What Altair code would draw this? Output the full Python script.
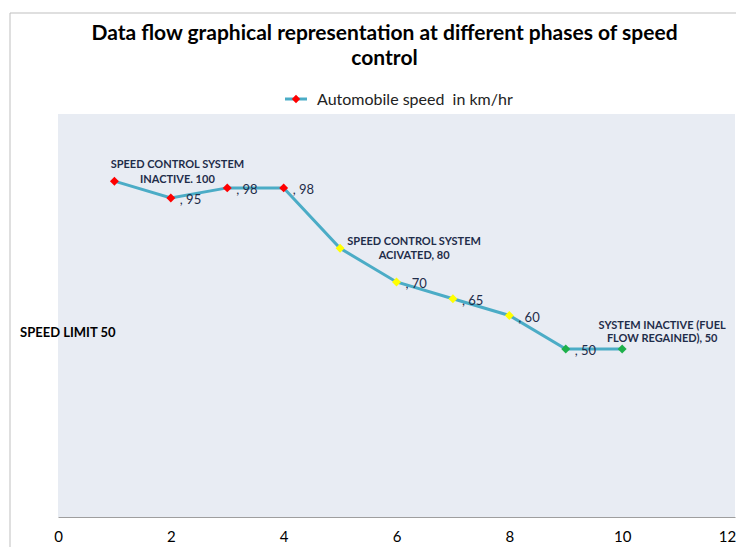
import altair as alt
import pandas as pd

# ---- data ----
xs = [1, 2, 3, 4, 5, 6, 7, 8, 9, 10]
speeds = [100, 95, 98, 98, 80, 70, 65, 60, 50, 50]
phases = ["inactive", "inactive", "inactive", "inactive",
          "activated", "activated", "activated", "activated",
          "regained", "regained"]
labels = ["SPEED CONTROL SYSTEM\nINACTIVE. 100", ", 95", ", 98", ", 98",
          "SPEED CONTROL SYSTEM\nACIVATED, 80", ", 70", ", 65", ", 60", ", 50",
          "SYSTEM INACTIVE (FUEL\nFLOW REGAINED), 50"]
x_ticks = [0, 2, 4, 6, 8, 10, 12]
phase_names = ["inactive", "activated", "regained"]
phase_colors = ["#FF0000", "#FFFF00", "#1DB04A"]

title_lines = ["Data flow graphical representation at different phases of speed", "control"]
legend_label = "Automobile speed\u00a0 in km/hr"
side_note = "SPEED LIMIT 50"

df = pd.DataFrame({"x": xs, "speed": speeds, "phase": phases, "label": labels,
                   "idx": list(range(len(xs)))})

W, H = 677, 403
FONT = "Lato"
LINE_COLOR = "#4BACC6"
TEXT_COLOR = "#1F2D4A"

xscale = alt.Scale(domain=[0, 12], nice=False, zero=False)
yscale = alt.Scale(domain=[0, 120], nice=False)

base = alt.Chart(df)

line = base.mark_line(color=LINE_COLOR, strokeWidth=3).encode(
    x=alt.X("x:Q", scale=xscale,
            axis=alt.Axis(values=x_ticks, format="d", title=None, grid=False, ticks=False,
                          domainColor="#9E9E9E", domainWidth=1, labelFontSize=15,
                          labelFont=FONT, labelColor="#000000", labelPadding=12,
                          labelFlush=False,
                          labelOffset={"condition": {"test": "datum.value == 12", "value": -8},
                                       "value": 0})),
    y=alt.Y("speed:Q", scale=yscale, axis=None),
)

points = base.mark_point(shape="diamond", filled=True, size=80, opacity=1).encode(
    x=alt.X("x:Q", scale=xscale),
    y=alt.Y("speed:Q", scale=yscale),
    color=alt.Color("phase:N", scale=alt.Scale(domain=phase_names, range=phase_colors),
                    legend=None),
)

short_labels = base.transform_filter(
    "indexof([0, 4, 9], datum.idx) < 0"
).mark_text(align="left", baseline="middle", dx=9, dy=2, fontSize=13,
            font=FONT, color=TEXT_COLOR).encode(
    x=alt.X("x:Q", scale=xscale), y=alt.Y("speed:Q", scale=yscale), text="label:N")


def big_label(i, dx, dy, lh):
    return base.transform_filter(f"datum.idx == {i}").mark_text(
        align="center", baseline="middle", dx=dx, dy=dy, lineBreak="\n",
        lineHeight=lh, fontSize=11, fontWeight="bold", font=FONT,
        color=TEXT_COLOR).encode(
        x=alt.X("x:Q", scale=xscale), y=alt.Y("speed:Q", scale=yscale),
        text="label:N")


lab1 = big_label(0, 63, -16, 15)
lab5 = big_label(4, 74, -6, 14)
lab10 = big_label(9, 40, -23, 13)

note = alt.Chart(pd.DataFrame({"t": [side_note]})).mark_text(
    align="left", baseline="middle", fontSize=13, fontWeight="bold", font=FONT,
    color="#000000").encode(x=alt.value(-38), y=alt.value(219), text="t:N")

# title drawn as text
title_df = pd.DataFrame({"t": title_lines, "yy": [-74, -49]})
title = alt.Chart(title_df).mark_text(align="center", baseline="alphabetic", fontSize=21,
                                      fontWeight="bold", font=FONT, color="#000000").encode(
    x=alt.value(326.5), y=alt.Y("yy:Q", scale=None), text="t:N")

# manual legend
leg_df = pd.DataFrame({"t": [legend_label]})
leg_line = alt.Chart(leg_df).mark_rule(color=LINE_COLOR, strokeWidth=3).encode(
    x=alt.value(227), x2=alt.value(249), y=alt.value(-15))
leg_pt = alt.Chart(leg_df).mark_point(shape="diamond", filled=True, size=70,
                                      color="#FF0000", opacity=1).encode(
    x=alt.value(238), y=alt.value(-15))
leg_txt = alt.Chart(leg_df).mark_text(align="left", baseline="middle", fontSize=16,
                                      font=FONT, color="#222222").encode(
    x=alt.value(259), y=alt.value(-14), text="t:N")

# chart frame
frame = alt.Chart(leg_df).mark_rect(fill=None, stroke="#BFBFBF", strokeWidth=1).encode(
    x=alt.value(-48), x2=alt.value(900), y=alt.value(-101), y2=alt.value(700))

chart = alt.layer(frame, line, points, short_labels, lab1, lab5, lab10, note, title,
                  leg_line, leg_pt, leg_txt).properties(
    width=W, height=H,
    autosize=alt.AutoSizeParams(type="none"),
    padding={"left": 50, "top": 106, "right": 1, "bottom": 30},
).configure_view(fill="#E8ECF3", stroke=None)

chart.save("out.html", embed_options={"renderer": "svg", "actions": False})
